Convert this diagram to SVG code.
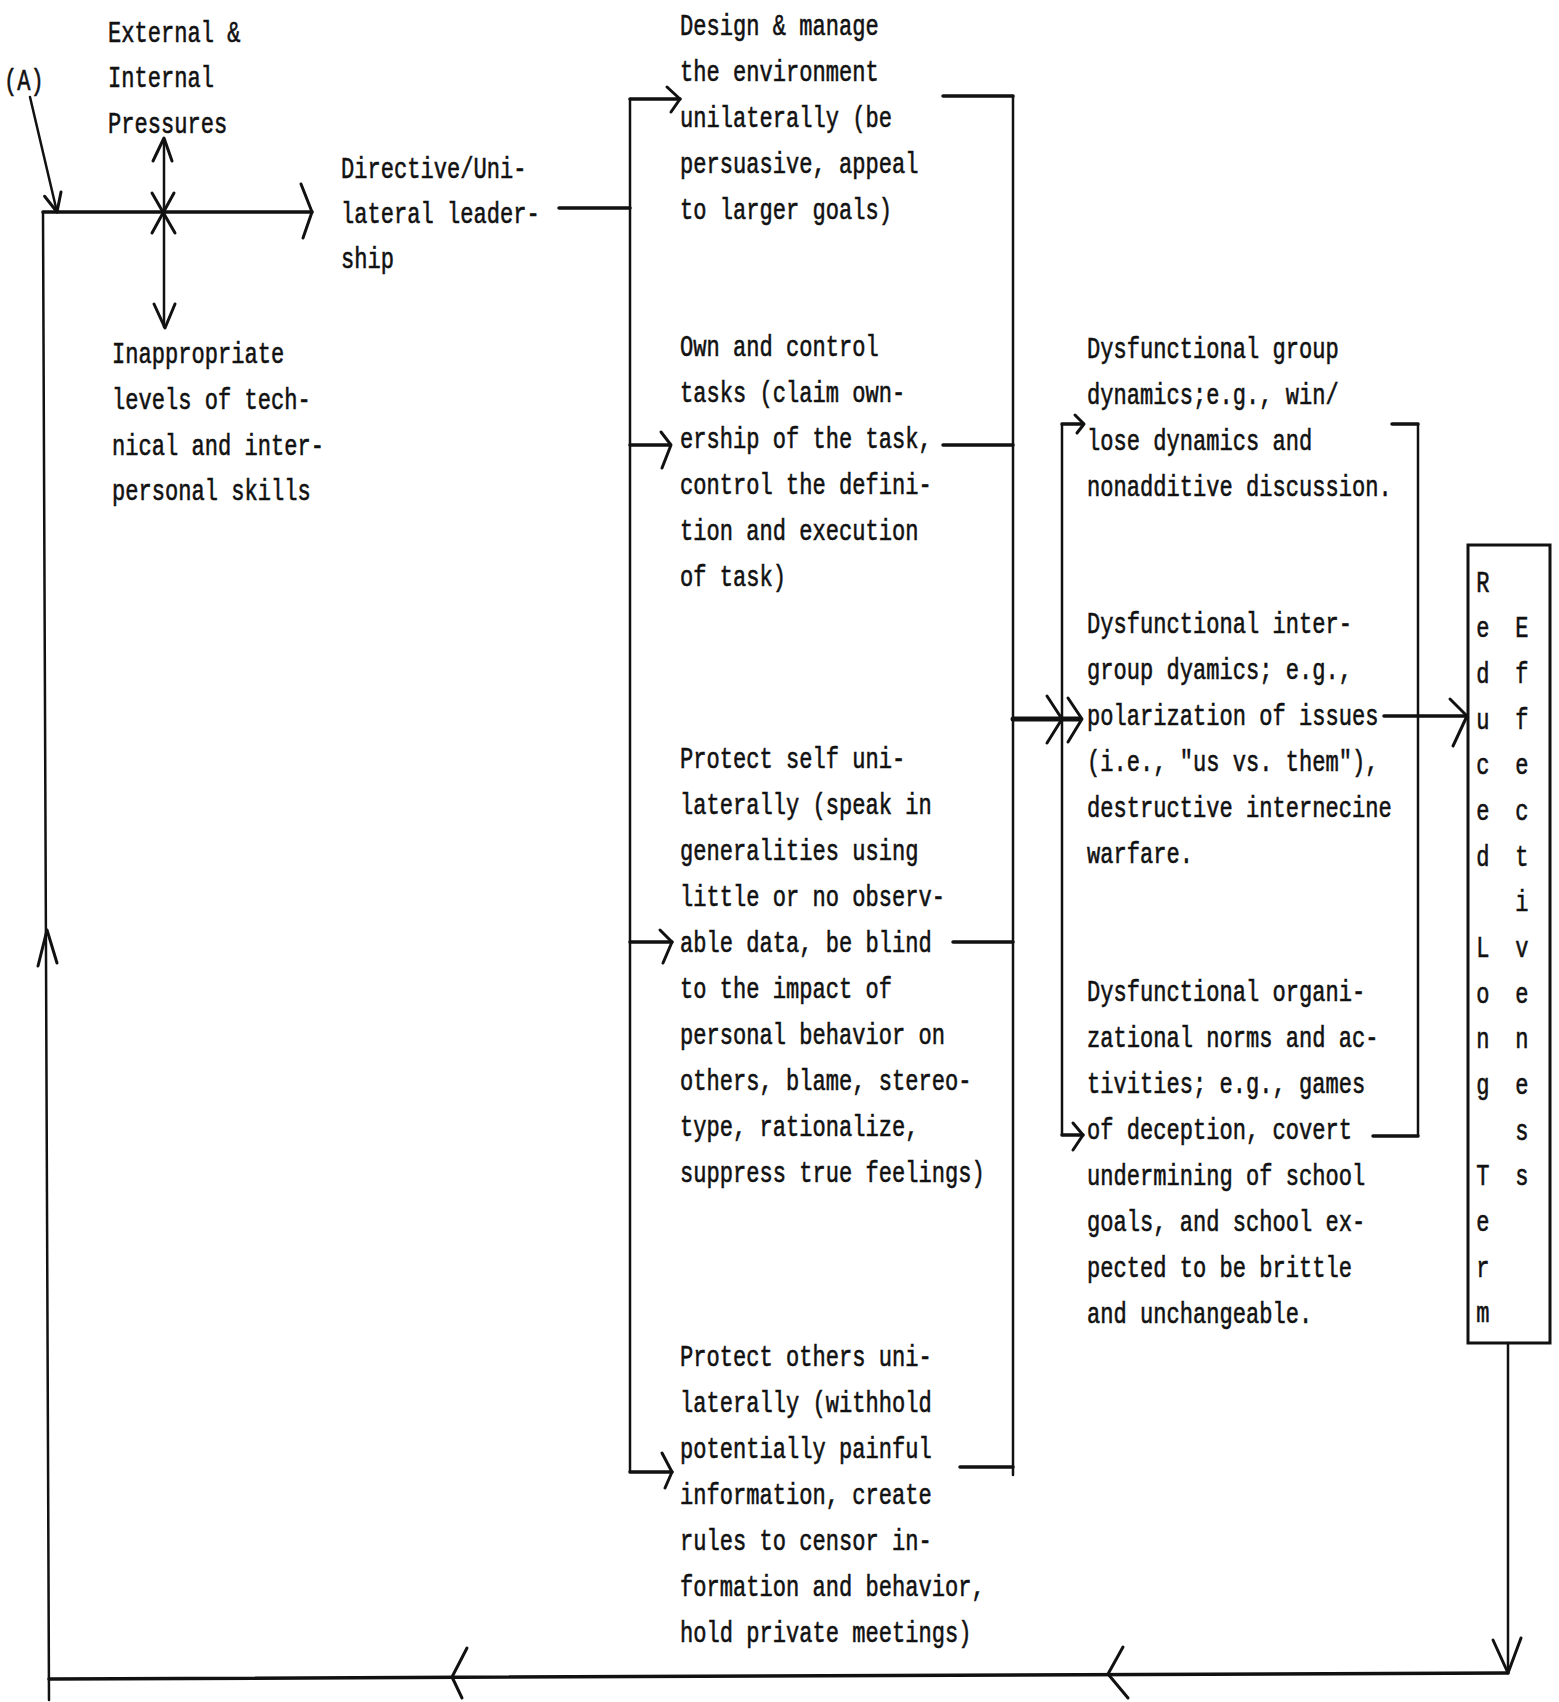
<svg xmlns="http://www.w3.org/2000/svg" width="1559" height="1702" viewBox="0 0 1559 1702">
<style>
  .t { font-family: "Liberation Mono", "DejaVu Sans Mono", monospace; font-size: 30px; fill: #111; stroke: #111; stroke-width: 0.6px; }
  .ln { stroke: #111; stroke-width: 2.5; fill: none; stroke-linecap: round; stroke-linejoin: round; }
  .thk { stroke: #111; stroke-width: 3.5; fill: none; stroke-linecap: round; stroke-linejoin: round; }
  .hd { stroke: #111; stroke-width: 3; fill: none; stroke-linecap: round; stroke-linejoin: round; }
  .box { stroke: #111; stroke-width: 3; fill: none; }
</style>
<rect width="1559" height="1702" fill="#ffffff"/>

<g id="connectors">
  <path class="ln" d="M30,97 L57,212"/>
  <path class="hd" d="M44.6,196.3 L57,212 L61,192"/>
  <path class="thk" d="M43,212 L312,212"/>
  <path class="hd" d="M301,184 L312,212 L303,238"/>
  <path class="ln" d="M49,1700 L43,212"/>
  <path class="hd" d="M38,966 L47,930 L57,963"/>
  <path class="ln" d="M164,139 L164,327"/>
  <path class="hd" d="M153,161 L164,138 L172,161"/>
  <path class="hd" d="M154,304 L165,328 L175,304"/>
  <path class="hd" d="M152,193 L175,233 M174,193 L152,233"/>
  <path class="thk" d="M559,208 L630,208"/>
  <path class="ln" d="M630,99 L630,1472"/>
  <path class="thk" d="M630,99 L680,99"/>
  <path class="hd" d="M667,87 L680,99 L671,112"/>
  <path class="thk" d="M630,445 L670,445"/>
  <path class="hd" d="M661,432 L671,445 L662,468"/>
  <path class="thk" d="M630,942 L672,942"/>
  <path class="hd" d="M660,930 L672,942 L663,963"/>
  <path class="thk" d="M630,1472 L672,1472"/>
  <path class="hd" d="M662,1453 L672,1472 L665,1488"/>
  <path class="ln" d="M1013,96 L1013,1475"/>
  <path class="thk" d="M943,96 L1013,96"/>
  <path class="thk" d="M943,445 L1013,445"/>
  <path class="thk" d="M953,942 L1013,942"/>
  <path class="thk" d="M960,1467 L1013,1467"/>
  <path class="thk" style="stroke-width:5" d="M1013,719 L1080,719"/>
  <path class="hd" d="M1047,696 L1062,719 L1047,743"/>
  <path class="hd" d="M1068,698 L1082,719 L1068,742"/>
  <path class="ln" d="M1062,424 L1062,1135"/>
  <path class="thk" d="M1062,424 L1083,424"/>
  <path class="hd" d="M1075,415 L1084,424 L1077,433"/>
  <path class="thk" d="M1062,1135 L1083,1135"/>
  <path class="hd" d="M1073,1123 L1083,1135 L1073,1150"/>
  <path class="ln" d="M1418,424 L1418,1136"/>
  <path class="thk" d="M1392,424 L1418,424"/>
  <path class="thk" d="M1373,1136 L1418,1136"/>
  <path class="thk" d="M1384,716 L1467,716"/>
  <path class="hd" d="M1450,699 L1467,716 L1453,746"/>
  <path class="ln" d="M1508,1343 L1508,1673"/>
  <path class="hd" d="M1493,1640 L1508,1673 L1521,1638"/>
  <path class="thk" d="M1508,1673 L49,1679"/>
  <path class="hd" d="M467,1648 L452,1677 L462,1698"/>
  <path class="hd" d="M1123,1647 L1108,1674 L1128,1698"/>
</g>

<g id="n-A">
  <text class="t" transform="translate(4,0) scale(0.736,1)"><tspan x="0" y="90">(A)</tspan></text>
</g>

<g id="n-pressures">
  <text class="t" transform="translate(108,0) scale(0.736,1)"><tspan x="0" y="42">External &amp;</tspan><tspan x="0" y="87">Internal</tspan><tspan x="0" y="133">Pressures</tspan></text>
</g>

<g id="n-skills">
  <text class="t" transform="translate(112,0) scale(0.736,1)"><tspan x="0" y="363">Inappropriate</tspan><tspan x="0" y="409">levels of tech-</tspan><tspan x="0" y="455">nical and inter-</tspan><tspan x="0" y="500">personal skills</tspan></text>
</g>

<g id="n-directive">
  <text class="t" transform="translate(341,0) scale(0.736,1)"><tspan x="0" y="178">Directive/Uni-</tspan><tspan x="0" y="223">lateral leader-</tspan><tspan x="0" y="268">ship</tspan></text>
</g>

<g id="n-design">
  <text class="t" transform="translate(680,0) scale(0.736,1)"><tspan x="0" y="35">Design &amp; manage</tspan><tspan x="0" y="81">the environment</tspan><tspan x="0" y="127">unilaterally (be</tspan><tspan x="0" y="173">persuasive, appeal</tspan><tspan x="0" y="219">to larger goals)</tspan></text>
</g>

<g id="n-own">
  <text class="t" transform="translate(680,0) scale(0.736,1)"><tspan x="0" y="356">Own and control</tspan><tspan x="0" y="402">tasks (claim own-</tspan><tspan x="0" y="448">ership of the task,</tspan><tspan x="0" y="494">control the defini-</tspan><tspan x="0" y="540">tion and execution</tspan><tspan x="0" y="586">of task)</tspan></text>
</g>

<g id="n-protect-self">
  <text class="t" transform="translate(680,0) scale(0.736,1)"><tspan x="0" y="768">Protect self uni-</tspan><tspan x="0" y="814">laterally (speak in</tspan><tspan x="0" y="860">generalities using</tspan><tspan x="0" y="906">little or no observ-</tspan><tspan x="0" y="952">able data, be blind</tspan><tspan x="0" y="998">to the impact of</tspan><tspan x="0" y="1044">personal behavior on</tspan><tspan x="0" y="1090">others, blame, stereo-</tspan><tspan x="0" y="1136">type, rationalize,</tspan><tspan x="0" y="1182">suppress true feelings)</tspan></text>
</g>

<g id="n-protect-others">
  <text class="t" transform="translate(680,0) scale(0.736,1)"><tspan x="0" y="1366">Protect others uni-</tspan><tspan x="0" y="1412">laterally (withhold</tspan><tspan x="0" y="1458">potentially painful</tspan><tspan x="0" y="1504">information, create</tspan><tspan x="0" y="1550">rules to censor in-</tspan><tspan x="0" y="1596">formation and behavior,</tspan><tspan x="0" y="1642">hold private meetings)</tspan></text>
</g>

<g id="n-group">
  <text class="t" transform="translate(1087,0) scale(0.736,1)"><tspan x="0" y="358">Dysfunctional group</tspan><tspan x="0" y="404">dynamics;e.g., win/</tspan><tspan x="0" y="450">lose dynamics and</tspan><tspan x="0" y="496">nonadditive discussion.</tspan></text>
</g>

<g id="n-intergroup">
  <text class="t" transform="translate(1087,0) scale(0.736,1)"><tspan x="0" y="633">Dysfunctional inter-</tspan><tspan x="0" y="679">group dyamics; e.g.,</tspan><tspan x="0" y="725">polarization of issues</tspan><tspan x="0" y="771">(i.e., "us vs. them"),</tspan><tspan x="0" y="817">destructive internecine</tspan><tspan x="0" y="863">warfare.</tspan></text>
</g>

<g id="n-org">
  <text class="t" transform="translate(1087,0) scale(0.736,1)"><tspan x="0" y="1001">Dysfunctional organi-</tspan><tspan x="0" y="1047">zational norms and ac-</tspan><tspan x="0" y="1093">tivities; e.g., games</tspan><tspan x="0" y="1139">of deception, covert</tspan><tspan x="0" y="1185">undermining of school</tspan><tspan x="0" y="1231">goals, and school ex-</tspan><tspan x="0" y="1277">pected to be brittle</tspan><tspan x="0" y="1323">and unchangeable.</tspan></text>
</g>

<g id="n-reduced">
  <rect class="box" x="1468" y="545" width="82" height="798"/>
  <text class="t" text-anchor="middle" transform="translate(1483,0) scale(0.736,1)"><tspan x="0" y="591.7">R</tspan><tspan x="0" y="637.4">e</tspan><tspan x="0" y="683">d</tspan><tspan x="0" y="728.7">u</tspan><tspan x="0" y="774.4">c</tspan><tspan x="0" y="820.1">e</tspan><tspan x="0" y="865.7">d</tspan><tspan x="0" y="957.1">L</tspan><tspan x="0" y="1002.7">o</tspan><tspan x="0" y="1048.4">n</tspan><tspan x="0" y="1094.1">g</tspan><tspan x="0" y="1185.4">T</tspan><tspan x="0" y="1231.1">e</tspan><tspan x="0" y="1276.8">r</tspan><tspan x="0" y="1322.4">m</tspan></text>
  <text class="t" text-anchor="middle" transform="translate(1522,0) scale(0.736,1)"><tspan x="0" y="637.4">E</tspan><tspan x="0" y="683">f</tspan><tspan x="0" y="728.7">f</tspan><tspan x="0" y="774.4">e</tspan><tspan x="0" y="820.1">c</tspan><tspan x="0" y="865.7">t</tspan><tspan x="0" y="911.4">i</tspan><tspan x="0" y="957.1">v</tspan><tspan x="0" y="1002.7">e</tspan><tspan x="0" y="1048.4">n</tspan><tspan x="0" y="1094.1">e</tspan><tspan x="0" y="1139.8">s</tspan><tspan x="0" y="1185.4">s</tspan></text>
</g>
</svg>
